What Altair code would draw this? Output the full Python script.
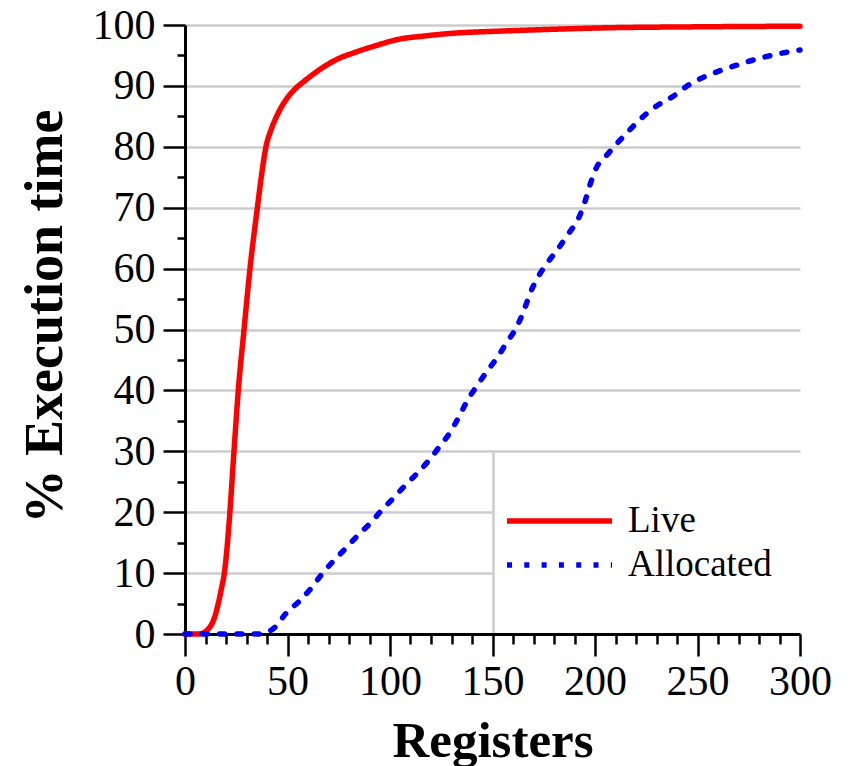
import altair as alt
import pandas as pd

series_names = ["Live", "Allocated"]
series_colors = ["#ff0000", "#0000ff"]

live_x = [0, 6, 9, 11, 13, 14.5, 16.3, 17.8, 19.2, 20.6, 21.9, 23.9, 26, 28.8, 31.7, 35.3,
          37.2, 39.5, 42, 44.7, 47.5, 50.3, 53.4, 56.8, 60.5, 64.5, 69, 75, 82, 92, 105, 117, 129,
          154, 180, 200, 250, 300]
live_y = [0, 0, 0.2, 0.7, 1.6, 2.8, 5.1, 7.5, 10, 14.5, 20, 30, 40, 50, 60, 70,
          75, 80, 82.8, 85, 86.8, 88.2, 89.4, 90.4, 91.4, 92.4, 93.4, 94.5, 95.4, 96.5, 97.7, 98.2, 98.6,
          99.0, 99.3, 99.5, 99.7, 99.8]

alloc_x = [0, 36.6, 40, 43.9, 49.3, 55.8, 61.5, 66.7, 72.4, 78.5, 84.6, 90.7, 96.4, 100.8,
           106.8, 112.7, 118.7, 124, 129.3, 133.7, 137.7, 142.3, 147.5, 152.5, 157.2, 161.8,
           165.4, 168.3, 172, 176.9, 182.1, 187, 191.9, 195.1, 197.6, 200.3, 205.7, 211.4,
           217.3, 223.6, 230.9, 238.2, 245, 252.8, 261, 269.1, 277.6, 285.9, 294.6, 300]
alloc_y = [0, 0, 0.3, 1.1, 3.4, 5.4, 7.5, 9.8, 12, 14.1, 16.3, 18.3, 20.5, 22,
           24.2, 26.2, 28.4, 30.7, 33.1, 35.7, 38.3, 40.7, 43.2, 45.5, 48, 50.4,
           53.2, 55.9, 58.5, 61, 63.3, 65.7, 68.2, 71, 73.8, 76.3, 78.6, 80.8,
           82.9, 85, 86.9, 88.3, 90, 91.4, 92.5, 93.4, 94.3, 95.0, 95.6, 95.9]

x_ticks = list(range(0, 301, 10))
y_ticks = list(range(0, 101, 5))

df = pd.concat([
    pd.DataFrame({"series": "Live", "reg": live_x, "pct": live_y,
                  "order": list(range(len(live_x)))}),
    pd.DataFrame({"series": "Allocated", "reg": alloc_x, "pct": alloc_y,
                  "order": list(range(len(alloc_x)))}),
], ignore_index=True)

FONT = "Liberation Serif"
GRID = "#cccccc"

legend = alt.Legend(
    title=None, orient="none", legendX=304, legendY=461,
    padding=15, symbolType="stroke", symbolSize=11025, symbolStrokeWidth=5.5,
    labelFont=FONT, labelFontSize=37, labelColor="black", labelOffset=13, labelLimit=0,
    clipHeight=40, rowPadding=4,
)

chart = alt.Chart(df).mark_line(strokeWidth=5.5, strokeCap="round", interpolate="monotone").encode(
    x=alt.X("reg:Q", scale=alt.Scale(domain=[0, 300], nice=False),
            axis=alt.Axis(
                values=x_ticks, grid=True, gridColor=GRID, gridWidth=2.5,
                gridOpacity={"condition": {"test": "datum.value === 150", "value": 1}, "value": 0},
                gridDash={"condition": {"test": "datum.value === 150",
                                        "value": [0, 426.3, 182.7, 2000]}, "value": []},
                labelExpr="datum.value % 50 === 0 ? datum.label : ''",
                tickSize={"condition": {"test": "datum.value % 50 === 0", "value": 22}, "value": 10},
                tickWidth=2.5, tickColor="black", domainColor="black", domainWidth=3,
                labelFont=FONT, labelFontSize=42, labelColor="black", labelPadding=5,
                labelFlush=False, labelOverlap=False, labelBound=False,
                title="Registers", titleFont=FONT, titleFontSize=51, titleFontWeight="bold",
                titleColor="black", titlePadding=14)),
    y=alt.Y("pct:Q", scale=alt.Scale(domain=[0, 100], nice=False),
            axis=alt.Axis(
                values=y_ticks, grid=True, gridColor=GRID, gridWidth=2.5,
                gridOpacity={"condition": {"test": "datum.value % 10 === 0", "value": 1}, "value": 0},
                gridDash={"condition": {"test": "datum.value === 10 || datum.value === 20",
                                        "value": [307, 2000]}, "value": []},
                labelExpr="datum.value % 10 === 0 ? datum.label : ''",
                tickSize={"condition": {"test": "datum.value % 10 === 0", "value": 22}, "value": 8},
                tickWidth=2.5, tickColor="black", domainColor="black", domainWidth=3,
                labelFont=FONT, labelFontSize=42, labelColor="black", labelPadding=8,
                labelOverlap=False,
                title="% Execution time", titleFont=FONT, titleFontSize=54, titleFontWeight="bold",
                titleColor="black", titlePadding=20, titleY=291)),
    color=alt.Color("series:N", scale=alt.Scale(domain=series_names, range=series_colors), legend=legend),
    strokeDash=alt.StrokeDash("series:N", scale=alt.Scale(domain=series_names, range=[[1, 0], [5, 12.3]]),
                              legend=legend),
    order=alt.Order("order:Q"),
).properties(
    width=615, height=609,
    autosize=alt.AutoSizeParams(type="none"),
    padding={"left": 185, "top": 25, "right": 50, "bottom": 132},
    background="white",
).configure_view(stroke=None)

chart.save("out.html", embed_options={"renderer": "svg", "actions": False})
